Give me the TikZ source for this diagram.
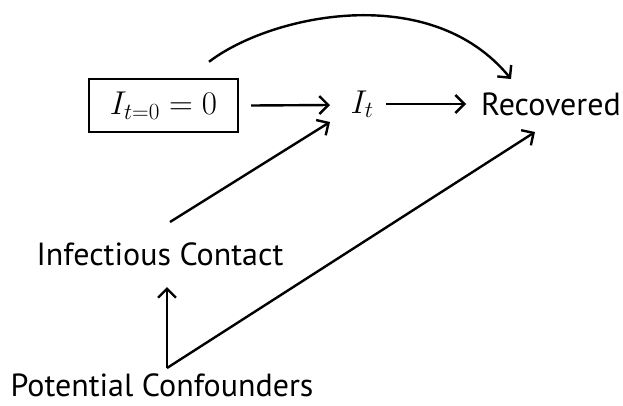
\RequirePackage{fix-cm}
\documentclass[tikz,border=0pt]{standalone}
\usepackage{fontspec}
\newfontfamily\labfont{PT Sans}
\usetikzlibrary{arrows.meta}
\tikzset{
  lab/.style={inner sep=0pt, anchor=base, font=\labfont\fontsize{32}{38}\selectfont},
  mth/.style={inner sep=0pt, font=\fontsize{33}{40}\selectfont},
  arr/.style={line width=2.4pt, -{Straight Barb[length=9pt,width=18pt,line width=2.4pt]}},
}
\begin{document}
\begin{tikzpicture}[x=1pt,y=-1pt]
\useasboundingbox (0,0) rectangle (623,405);
\node[mth, draw, line width=2.4pt, minimum width=149pt, minimum height=53pt] (box) at (163.5,105.5) {$I_{t=0}=0$};
\node[mth, anchor=base] (it) at (362,113) {$I_t$};
\node[lab] (rec) at (551,115) {Recovered};
\node[lab] (ic) at (160,265) {Infectious Contact};
\node[lab] (pc) at (162,396) {Potential Confounders};
\draw[arr] ([xshift=12pt]box.east) -- ([xshift=-32pt,yshift=8pt]it.base);
\draw[arr] ([xshift=24pt,yshift=9pt]it.base) -- ([xshift=-85pt,yshift=11pt]rec.base);
\draw[arr] ([xshift=10pt,yshift=43pt]ic.base) -- ([xshift=-32pt,yshift=-9pt]it.base);
\draw[arr] ([xshift=5pt,yshift=28pt]pc.base) -- ([xshift=7pt,yshift=-22pt]ic.base);
\draw[arr] ([xshift=5pt,yshift=28pt]pc.base) -- ([xshift=-16pt,yshift=-17pt]rec.base);
\draw[arr] ([xshift=45.5pt,yshift=16pt]box.north) .. controls (270,15) and (430,-20) .. ([xshift=-40pt,yshift=36pt]rec.base);
\end{tikzpicture}
\end{document}
